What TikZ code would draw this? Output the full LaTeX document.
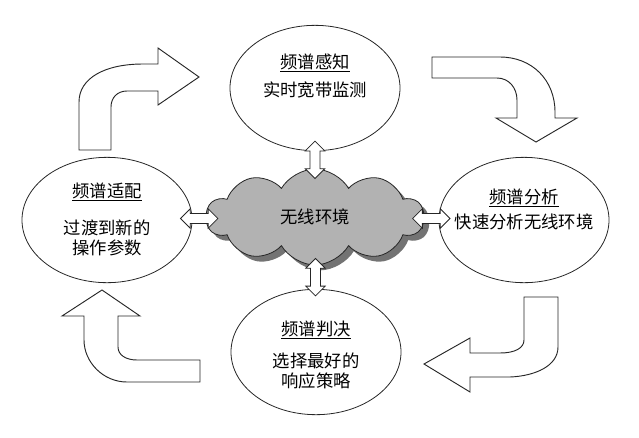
\documentclass[tikz,border=0pt]{standalone}
\usepackage{fontspec}
\newfontfamily\cjk{Noto Sans CJK SC}
\usetikzlibrary{shapes.geometric,shapes.symbols,shapes.arrows,shadows,calc}

\begin{document}
\begin{tikzpicture}[x=0.75pt,y=-0.75pt,
  every node/.style={font=\cjk\fontsize{13}{15}\selectfont,inner sep=0pt},
  stage/.style={ellipse,draw=black!85,line width=0.6pt,minimum width=127.5pt,minimum height=94pt},
  envcloud/.style={cloud,cloud puffs=10,cloud puff arc=120,aspect=2.3,draw=black!85,
    line width=0.6pt,fill=black!30,minimum width=163pt,minimum height=72pt,
    drop shadow={shadow xshift=4pt,shadow yshift=-4pt,fill=black!55,opacity=1}},
  link/.style={double arrow,draw=black!85,fill=white,line width=0.6pt,inner sep=3.5pt,
    minimum width=14pt,minimum height=28pt,double arrow head extend=3.5pt},
  bigarrow/.style={draw=black!85,fill=white,line width=0.7pt,line join=miter}]
\useasboundingbox (0,0) rectangle (639,437);

% four stages and the environment
\node[stage] (sense) at (315,88) {};
\node[stage] (adapt) at (107,220) {};
\node[stage] (analyse) at (524,220) {};
\node[stage] (decide) at (316,352) {};
\node[envcloud] (env) at (315,217) {};
\node (envtext) at (env.center) {无线环境};

% texts
\node (sensetitle) at ($(sense)+(0,-25)$) {\underline{频谱感知}};
\node[align=center] (sensetext) at ($(sense)+(0,2)$) {实时宽带监测};
\node (adapttitle) at ($(adapt)+(0,-28)$) {\underline{频谱适配}};
\node[align=center] (adapttext) at ($(adapt)+(0,18)$) {过渡到新的\\操作参数};
\node (analysetitle) at ($(analyse)+(0,-22)$) {\underline{频谱分析}};
\node[align=center] (analysetext) at ($(analyse)+(0,2)$) {快速分析无线环境};
\node (decidetitle) at ($(decide)+(0,-22)$) {\underline{频谱判决}};
\node[align=center] (decidetext) at ($(decide)+(0,19)$) {选择最好的\\响应策略};

% links to the environment
\node[link,rotate=90] (l1) at ($(sense.south)!0.5!(env.north)$) {};
\node[link,rotate=90] (l2) at ($(decide.north)!0.5!(env.south)$) {};
\node[link] (l3) at ($(adapt.east)!0.5!(env.west)$) {};
\node[link] (l4) at ($(analyse.west)!0.5!(env.east)$) {};

% cycle arrows
\draw[bigarrow] (79,150) -- (79,102) .. controls (79,78) and (105,64) .. (143,64)
  -- (158,64) -- (158,48) -- (199,77) -- (158,105) -- (158,91) -- (127,91)
  .. controls (117,91) and (111,98) .. (111,107) -- (111,150) -- cycle;
\draw[bigarrow] (432,57) -- (500,57) .. controls (532,57) and (555,80) .. (555,112)
  -- (555,118) -- (577,118) -- (536,142) -- (496,118) -- (517,118) -- (517,100)
  .. controls (517,88) and (509,78) .. (497,78) -- (432,78) -- cycle;
\draw[bigarrow] (524,297) -- (558,297) -- (558,347) .. controls (558,366) and (535,376) .. (510,377)
  -- (470,377) -- (470,392) -- (424,364) -- (470,338) -- (470,353) -- (500,353)
  .. controls (515,353) and (524,348) .. (524,340) -- cycle;
\draw[bigarrow] (102,290) -- (140,316) -- (118,316) -- (118,347)
  .. controls (118,355) and (126,360) .. (137,360) -- (200,360) -- (200,382) -- (127,382)
  .. controls (103,382) and (84,362) .. (84,340) -- (84,316) -- (62,316) -- cycle;
\end{tikzpicture}
\end{document}
